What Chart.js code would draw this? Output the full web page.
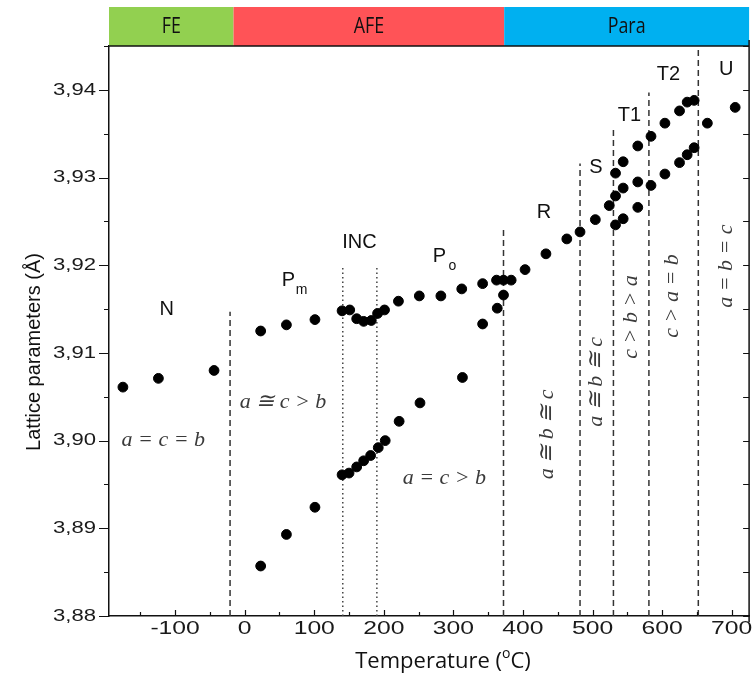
<!DOCTYPE html>
<html>
<head>
<meta charset="utf-8">
<script src="https://cdn.jsdelivr.net/npm/chart.js@4.4.1/dist/chart.umd.min.js"></script>
<style>
  html, body { margin: 0; padding: 0; background: #fff; }
  #wrap { position: relative; width: 755px; height: 685px; }
</style>
</head>
<body>
<div id="wrap"><canvas id="latticeChart" width="755" height="685"></canvas></div>
<script>
// Lattice parameter data (temperature in °C, value in Å)
const upperTemp = [-175, -124, -44, 23, 60, 101, 140, 151, 161, 171, 182, 191, 201, 221, 251, 282, 312, 342, 362, 372, 383, 403, 433, 463, 482, 504, 524, 533, 544, 565, 584, 604, 625, 636, 646, 665, 705];
const upperVal = [3.9061, 3.9071, 3.9080, 3.9125, 3.9132, 3.9138, 3.9148, 3.9149, 3.9139, 3.9136, 3.9137, 3.9145, 3.9149, 3.9159, 3.9165, 3.9165, 3.9173, 3.9179, 3.9183, 3.9183, 3.9183, 3.9195, 3.9213, 3.9230, 3.9238, 3.9252, 3.9268, 3.9305, 3.9318, 3.9336, 3.9347, 3.9362, 3.9376, 3.9386, 3.9388, 3.9362, 3.9380];

const middleTemp = [533, 544, 565, 584, 604, 625, 636, 646];
const middleVal = [3.9279, 3.9288, 3.9295, 3.9291, 3.9304, 3.9317, 3.9326, 3.9334];

const lowerTemp = [23, 60, 101, 140, 150, 161, 171, 181, 192, 202, 222, 252, 313, 342, 363, 372, 533, 544, 565];
const lowerVal = [3.8857, 3.8893, 3.8924, 3.8961, 3.8963, 3.8970, 3.8977, 3.8983, 3.8992, 3.9000, 3.9022, 3.9043, 3.9072, 3.9133, 3.9151, 3.9166, 3.9246, 3.9253, 3.9266];

// Phase boundaries
const dashedTemp = [-21, 372, 482, 530, 581, 652];
const dashedTop = [3.9147, 3.9242, 3.9316, 3.9356, 3.9397, 3.945];
const dottedTemp = [141, 190];
const dottedTop = [3.920, 3.920];

// Axis ticks
const xTicks = [-100, 0, 100, 200, 300, 400, 500, 600, 700];
const yTicks = [3.88, 3.89, 3.90, 3.91, 3.92, 3.93, 3.94];

// Top colour band
const bandNames = ['FE', 'AFE', 'Para'];
const bandEdges = [-195, -16, 373, 725];
const bandColors = ['#92d050', '#ff5357', '#00b0f0'];

// Phase names and relations
const phaseLabels = ['N', 'INC', 'R', 'S', 'T1', 'T2', 'U'];
const phaseLabelTemp = [-112, 165, 430, 505, 553, 609, 692];
const phaseLabelVal = [3.9150, 3.9226, 3.9260, 3.9311, 3.9371, 3.9418, 3.9423];

const subLabels = ['P', 'P'];
const subLabelSub = ['m', 'o'];
const subLabelTemp = [63, 280];
const subLabelVal = [3.9183, 3.9210];

const relHoriz = ['a = c = b', 'a ≅ c > b', 'a = c > b'];
const relHorizTemp = [-117, 55, 287];
const relHorizVal = [3.9000, 3.9044, 3.8957];

const relVert = ['a ≅ b ≅ c', 'a ≅ b ≅ c', 'c > b > a', 'c > a = b', 'a = b = c'];
const relVertTemp = [435, 505, 555, 614, 692];
const relVertVal = [3.9007, 3.9067, 3.9141, 3.9165, 3.9199];

const toPoints = (xs, ys) => xs.map((x, i) => ({ x: x, y: ys[i] }));

const dotStyle = {
    backgroundColor: '#000',
    borderColor: '#000',
    pointRadius: 4.9,
    pointHoverRadius: 4.9,
    showLine: false
};

const boundarySets = [];
dashedTemp.forEach((t, i) => {
    boundarySets.push({
        data: [{ x: t, y: 3.88 }, { x: t, y: dashedTop[i] }],
        showLine: true, pointRadius: 0, borderColor: '#333', borderWidth: 1.5,
        borderDash: [6, 4]
    });
});
dottedTemp.forEach((t, i) => {
    boundarySets.push({
        data: [{ x: t, y: 3.88 }, { x: t, y: dottedTop[i] }],
        showLine: true, pointRadius: 0, borderColor: '#444', borderWidth: 1.5,
        borderDash: [1.5, 3]
    });
});

// Stretched text helper (the figure's tick labels are wide)
function wideText(ctx, text, x, y, sx, align) {
    ctx.save();
    ctx.translate(x, y);
    ctx.scale(sx, 1);
    ctx.textAlign = align;
    ctx.fillText(text, 0, 0);
    ctx.restore();
}

const decorPlugin = {
    id: 'decor',
    afterDraw(chart) {
        const ctx = chart.ctx;
        const xs = chart.scales.x;
        const ys = chart.scales.y;
        const area = chart.chartArea;

        // colour band
        ctx.save();
        for (let i = 0; i < bandNames.length; i++) {
            const x0 = Math.max(area.left, xs.getPixelForValue(bandEdges[i]));
            const x1 = Math.min(area.right, xs.getPixelForValue(bandEdges[i + 1]));
            ctx.fillStyle = bandColors[i];
            ctx.fillRect(x0, 7, x1 - x0, area.top - 7);
            ctx.fillStyle = '#111';
            ctx.font = '21px "Open Sans", sans-serif';
            ctx.textBaseline = 'middle';
            wideText(ctx, bandNames[i], (x0 + x1) / 2, (7 + area.top) / 2 + 1, 0.85, 'center');
        }
        ctx.restore();

        // frame: top and right
        ctx.save();
        ctx.strokeStyle = '#111';
        ctx.lineWidth = 1.5;
        ctx.beginPath();
        ctx.moveTo(area.left, area.top);
        ctx.lineTo(area.right, area.top);
        ctx.moveTo(area.right, area.top - 6);
        ctx.lineTo(area.right, area.bottom + 6);
        ctx.stroke();

        // y ticks (left outward, right inward)
        ctx.lineWidth = 1.2;
        ctx.beginPath();
        for (let v = 3.88; v <= 3.9451; v += 0.005) {
            const py = Math.round(ys.getPixelForValue(v)) + 0.5;
            const major = Math.abs(v * 100 - Math.round(v * 100)) < 1e-6;
            ctx.moveTo(area.left - (major ? 10 : 5), py);
            ctx.lineTo(area.left, py);
            ctx.moveTo(area.right, py);
            ctx.lineTo(area.right - 6, py);
        }
        // x ticks (inward)
        for (let t = -150; t <= 700; t += 50) {
            const px = Math.round(xs.getPixelForValue(t)) + 0.5;
            const major = t % 100 === 0;
            ctx.moveTo(px, area.bottom);
            ctx.lineTo(px, area.bottom - (major ? 6 : 4));
        }
        ctx.stroke();
        ctx.restore();

        // tick labels
        ctx.save();
        ctx.fillStyle = '#1a1a1a';
        ctx.textBaseline = 'middle';
        ctx.font = '17px "Liberation Sans", Arial, sans-serif';
        yTicks.forEach(v => {
            wideText(ctx, v.toFixed(2).replace('.', ','), 96, ys.getPixelForValue(v), 1.3, 'right');
        });
        ctx.font = '19px "Liberation Sans", Arial, sans-serif';
        xTicks.forEach(t => {
            wideText(ctx, String(t), xs.getPixelForValue(t), 629, 1.3, 'center');
        });
        ctx.restore();

        // axis titles
        ctx.save();
        ctx.fillStyle = '#111';
        ctx.textBaseline = 'middle';
        ctx.font = '20px "Liberation Sans", Arial, sans-serif';
        ctx.translate(34, 352);
        ctx.rotate(-Math.PI / 2);
        ctx.textAlign = 'center';
        ctx.fillText('Lattice parameters (Å)', 0, 0);
        ctx.restore();

        ctx.save();
        ctx.fillStyle = '#111';
        ctx.textBaseline = 'middle';
        const fMain = '22px "Open Sans", sans-serif';
        const fSup = '14px "Open Sans", sans-serif';
        ctx.font = fMain;
        const p1 = 'Temperature (';
        const p3 = 'C)';
        const w1 = ctx.measureText(p1).width;
        const w3 = ctx.measureText(p3).width;
        ctx.font = fSup;
        const w2 = ctx.measureText('o').width;
        let x = 443 - (w1 + w2 + w3) / 2;
        ctx.textAlign = 'left';
        ctx.font = fMain;
        ctx.fillText(p1, x, 662);
        ctx.font = fSup;
        ctx.fillText('o', x + w1, 654);
        ctx.font = fMain;
        ctx.fillText(p3, x + w1 + w2, 662);
        ctx.restore();

        // phase labels
        ctx.save();
        ctx.fillStyle = '#111';
        ctx.textBaseline = 'middle';
        ctx.textAlign = 'center';
        ctx.font = '20px "Liberation Sans", Arial, sans-serif';
        phaseLabels.forEach((s, i) => {
            ctx.fillText(s, xs.getPixelForValue(phaseLabelTemp[i]), ys.getPixelForValue(phaseLabelVal[i]));
        });
        subLabels.forEach((s, i) => {
            const px = xs.getPixelForValue(subLabelTemp[i]);
            const py = ys.getPixelForValue(subLabelVal[i]);
            ctx.font = '20px "Liberation Sans", Arial, sans-serif';
            ctx.fillText(s, px, py);
            ctx.font = '14px "Liberation Sans", Arial, sans-serif';
            ctx.fillText(subLabelSub[i], px + 13, py + 10);
        });
        ctx.restore();

        // relations in italics
        ctx.save();
        ctx.fillStyle = '#3a3a3a';
        ctx.textBaseline = 'middle';
        ctx.textAlign = 'center';
        ctx.font = 'italic 22px "Liberation Serif", "DejaVu Serif", serif';
        relHoriz.forEach((s, i) => {
            ctx.fillText(s, xs.getPixelForValue(relHorizTemp[i]), ys.getPixelForValue(relHorizVal[i]));
        });
        relVert.forEach((s, i) => {
            ctx.save();
            ctx.translate(xs.getPixelForValue(relVertTemp[i]), ys.getPixelForValue(relVertVal[i]));
            ctx.rotate(-Math.PI / 2);
            ctx.fillText(s, 0, 0);
            ctx.restore();
        });
        ctx.restore();
    }
};

const ctx = document.getElementById('latticeChart').getContext('2d');
const latticeChart = new Chart(ctx, {
    type: 'scatter',
    data: {
        datasets: [
            Object.assign({ label: 'upper', data: toPoints(upperTemp, upperVal) }, dotStyle),
            Object.assign({ label: 'middle', data: toPoints(middleTemp, middleVal) }, dotStyle),
            Object.assign({ label: 'lower', data: toPoints(lowerTemp, lowerVal) }, dotStyle)
        ].concat(boundarySets)
    },
    options: {
        responsive: false,
        devicePixelRatio: 1,
        animation: false,
        layout: { padding: { top: 46, right: 5, left: 0, bottom: 0 } },
        plugins: { legend: { display: false }, tooltip: { enabled: false } },
        scales: {
            x: {
                type: 'linear',
                min: -195,
                max: 725,
                grid: { display: false },
                border: { display: true, color: '#111', width: 1.5 },
                ticks: { display: false },
                afterFit: (scale) => { scale.height = 69; }
            },
            y: {
                type: 'linear',
                min: 3.88,
                max: 3.945,
                grid: { display: false },
                border: { display: true, color: '#111', width: 1.5 },
                ticks: { display: false },
                afterFit: (scale) => { scale.width = 109; }
            }
        }
    },
    plugins: [decorPlugin]
});
</script>
</body>
</html>
